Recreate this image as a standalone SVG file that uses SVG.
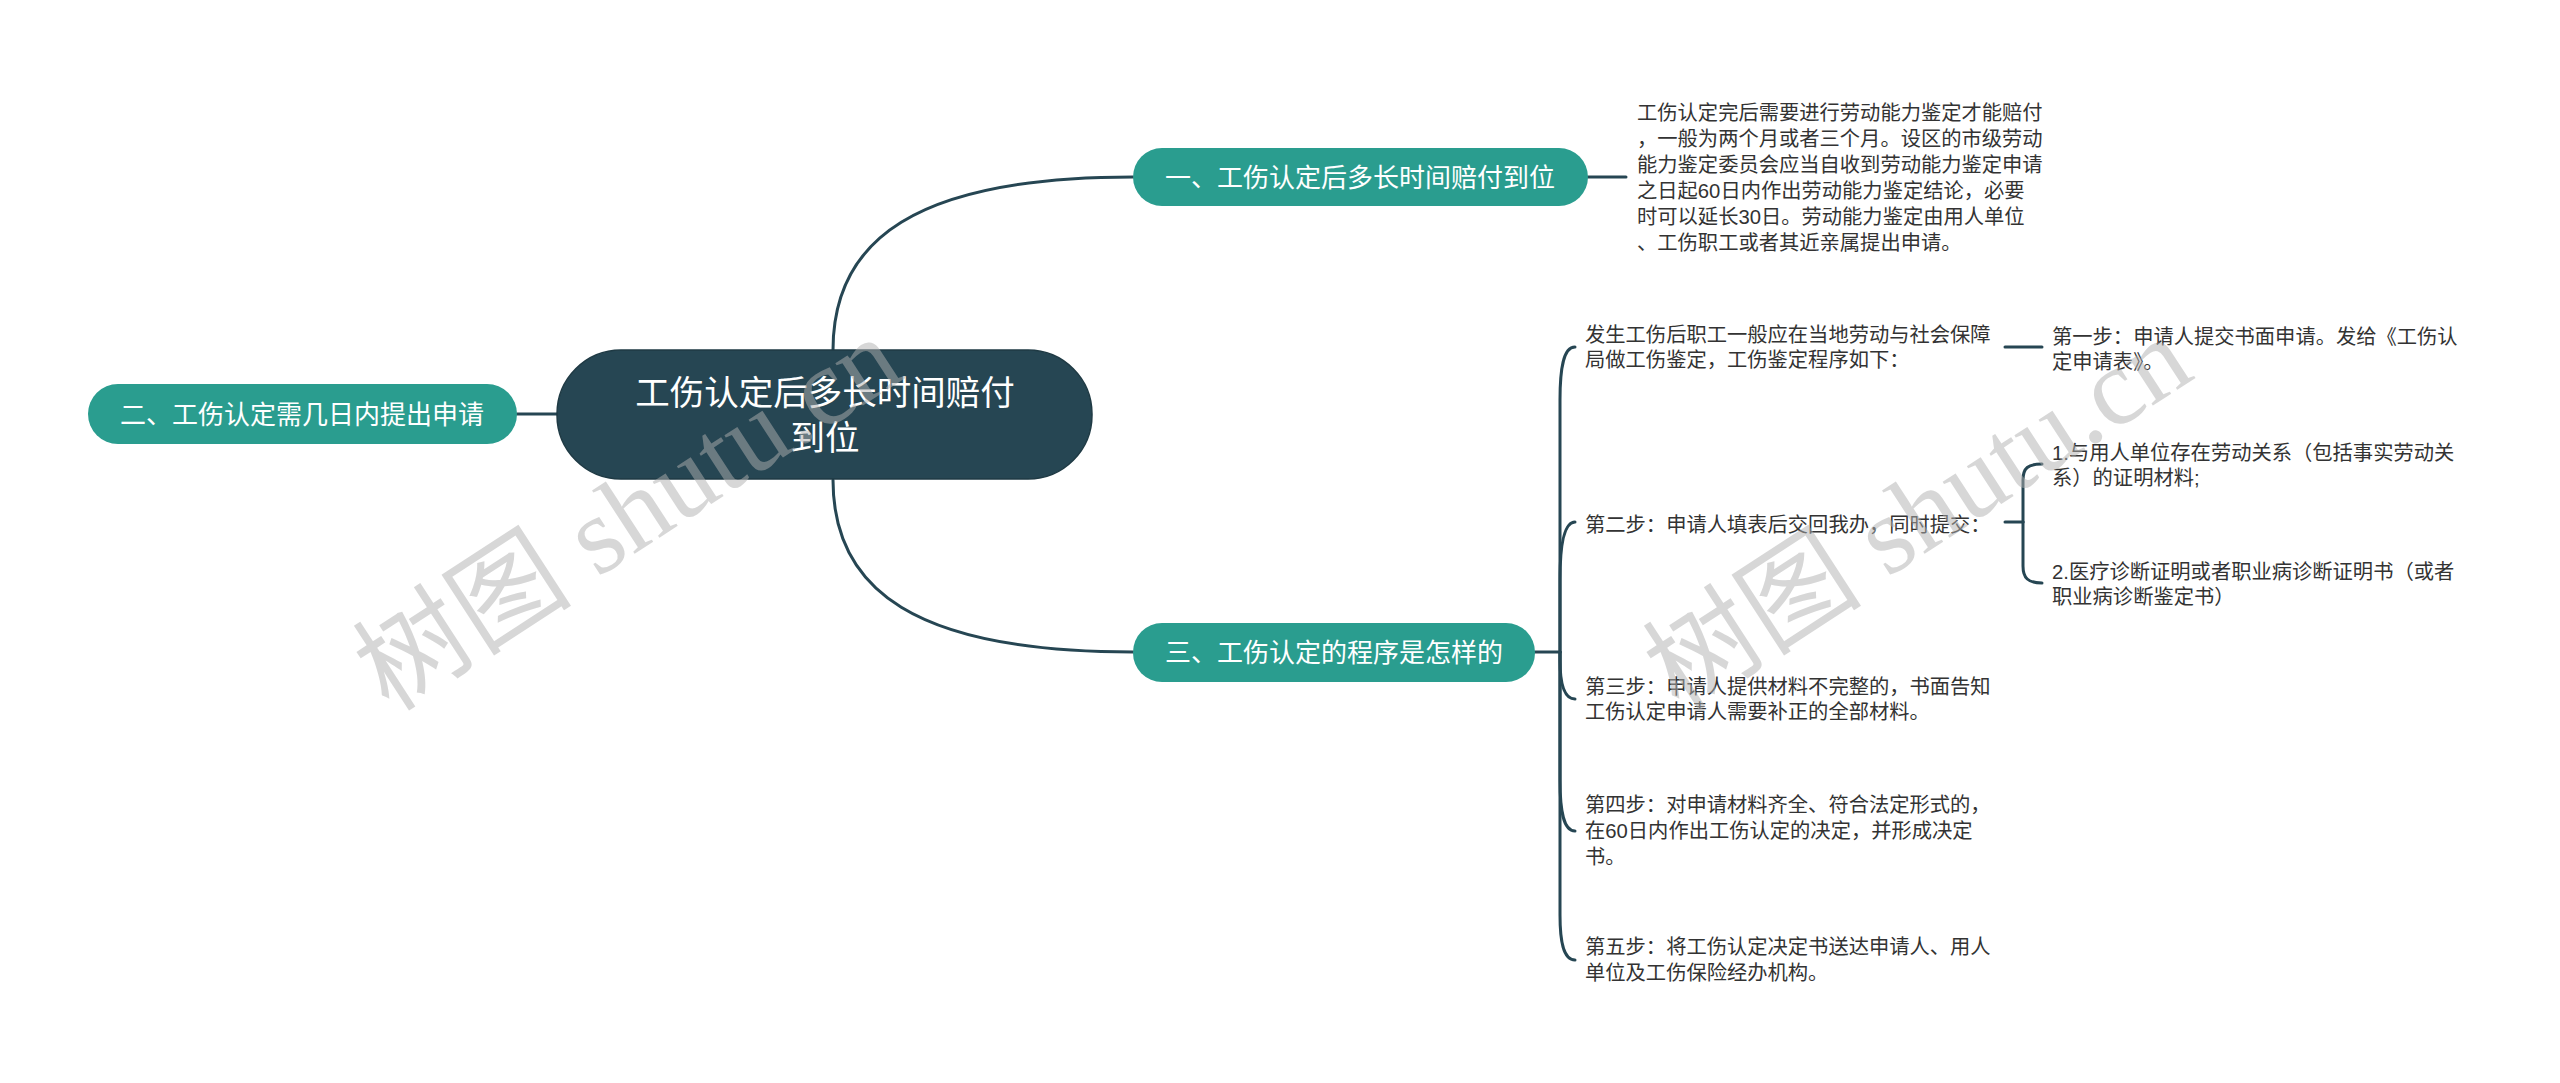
<svg xmlns="http://www.w3.org/2000/svg" width="2560" height="1083" viewBox="0 0 2560 1083">
<style>
text{font-family:"Liberation Sans","Noto Sans CJK SC",sans-serif;}
.root{fill:#264653;stroke:#1f3a44;stroke-width:1.5}
.l1{fill:#2a9d8f;}
.rt{fill:#fff;font-size:34.5px;text-anchor:middle;dominant-baseline:central}
.t1{fill:#fff;font-size:26px;text-anchor:middle;dominant-baseline:central}
.t2{fill:#333;font-size:20.3px}
.ln{fill:none;stroke:#264653;stroke-width:3;stroke-linecap:round}
.wm{font-family:"Liberation Serif","Noto Sans CJK SC",serif;font-size:110px;fill:#b0b0b0;opacity:0.5}
</style>
<rect width="2560" height="1083" fill="#fff"/>
<g id="connectors">
<path class="ln" d="M557,414 H517"/>
<path class="ln" d="M833,350 C833,240 915,177 1133,177"/>
<path class="ln" d="M833,480 C833,590 915,652 1133,652"/>
<path class="ln" d="M1588,177 H1626"/>
<path class="ln" d="M1535,652 H1560"/>
<path class="ln" d="M1560,652 V400 C1560,370 1563,347 1575,347"/>
<path class="ln" d="M1560,652 V580 C1560,550 1563,522 1575,522"/>
<path class="ln" d="M1560,652 V660 C1560,680 1563,699 1575,699"/>
<path class="ln" d="M1560,652 V780 C1560,810 1563,831 1575,831"/>
<path class="ln" d="M1560,652 V915 C1560,940 1563,960 1575,960"/>
<path class="ln" d="M2005,347 H2042"/>
<path class="ln" d="M2005,522 H2023"/>
<path class="ln" d="M2023,522 V480 C2023,468 2028,464 2042,464"/>
<path class="ln" d="M2023,522 V566 C2023,578 2028,583 2042,583"/>
</g>
<g id="root">
<rect class="root" x="557" y="350" width="535" height="129" rx="64"/>
<text class="rt" x="825" y="393">工伤认定后多长时间赔付</text>
<text class="rt" x="825" y="438">到位</text>
</g>
<g id="n1">
<rect class="l1" x="1133" y="148" width="455" height="58" rx="29"/>
<text class="t1" x="1360" y="178">一、工伤认定后多长时间赔付到位</text>
</g>
<g id="n2">
<rect class="l1" x="88" y="384" width="429" height="60" rx="30"/>
<text class="t1" x="302" y="415">二、工伤认定需几日内提出申请</text>
</g>
<g id="n3">
<rect class="l1" x="1133" y="623" width="402" height="59" rx="29"/>
<text class="t1" x="1334" y="653">三、工伤认定的程序是怎样的</text>
</g>
<g id="n1a">
<text class="t2" x="1637" y="120">工伤认定完后需要进行劳动能力鉴定才能赔付</text>
<text class="t2" x="1637" y="146">，一般为两个月或者三个月。设区的市级劳动</text>
<text class="t2" x="1637" y="172">能力鉴定委员会应当自收到劳动能力鉴定申请</text>
<text class="t2" x="1637" y="198">之日起60日内作出劳动能力鉴定结论，必要</text>
<text class="t2" x="1637" y="224">时可以延长30日。劳动能力鉴定由用人单位</text>
<text class="t2" x="1637" y="250">、工伤职工或者其近亲属提出申请。</text>
</g>
<g id="s0">
<text class="t2" x="1585" y="342">发生工伤后职工一般应在当地劳动与社会保障</text>
<text class="t2" x="1585" y="367">局做工伤鉴定，工伤鉴定程序如下：</text>
</g>
<g id="s1">
<text class="t2" x="2052" y="344">第一步：申请人提交书面申请。发给《工伤认</text>
<text class="t2" x="2052" y="369">定申请表》。</text>
</g>
<g id="s2">
<text class="t2" x="1585" y="532">第二步：申请人填表后交回我办，同时提交：</text>
</g>
<g id="s2a">
<text class="t2" x="2052" y="460">1.与用人单位存在劳动关系（包括事实劳动关</text>
<text class="t2" x="2052" y="485">系）的证明材料;</text>
</g>
<g id="s2b">
<text class="t2" x="2052" y="579">2.医疗诊断证明或者职业病诊断证明书（或者</text>
<text class="t2" x="2052" y="604">职业病诊断鉴定书）</text>
</g>
<g id="s3">
<text class="t2" x="1585" y="694">第三步：申请人提供材料不完整的，书面告知</text>
<text class="t2" x="1585" y="719">工伤认定申请人需要补正的全部材料。</text>
</g>
<g id="s4">
<text class="t2" x="1585" y="812">第四步：对申请材料齐全、符合法定形式的，</text>
<text class="t2" x="1585" y="838">在60日内作出工伤认定的决定，并形成决定</text>
<text class="t2" x="1585" y="864">书。</text>
</g>
<g id="s5">
<text class="t2" x="1585" y="954">第五步：将工伤认定决定书送达申请人、用人</text>
<text class="t2" x="1585" y="980">单位及工伤保险经办机构。</text>
</g>
<g id="watermark">
<text class="wm" x="628" y="514" text-anchor="middle" dominant-baseline="central" transform="rotate(-33 628 514)">树图 shutu.cn</text>
<text class="wm" x="1918" y="514" text-anchor="middle" dominant-baseline="central" transform="rotate(-33 1918 514)">树图 shutu.cn</text>
</g>
</svg>
